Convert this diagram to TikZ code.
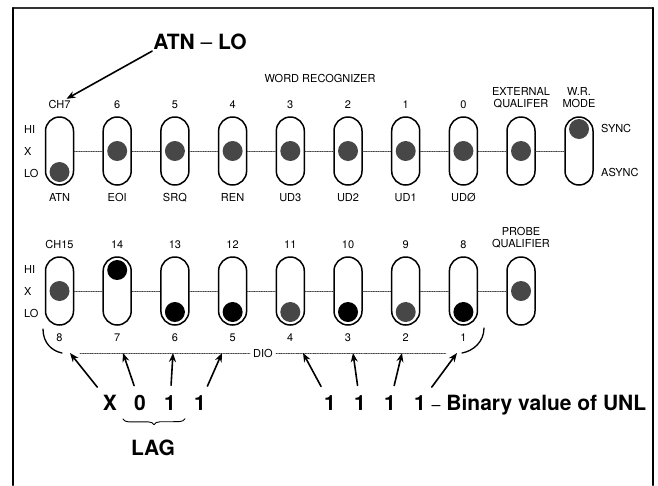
\documentclass[tikz,border=0pt]{standalone}
\usepackage{fontspec}
\setmainfont{TeX Gyre Heros}
\usetikzlibrary{arrows.meta,positioning,decorations.pathreplacing}
\tikzset{
    every picture/.style={line cap=round,line join=round},
    slot/.style={draw=black,line width=1.5pt,rounded corners=14pt,
      minimum width=28pt,minimum height=68pt,inner sep=0pt},
    knob/.style={circle,fill=black!72,minimum size=20pt,inner sep=0pt},
    solidknob/.style={knob,fill=black},
    tie/.style={draw=black!75,line width=0.7pt,densely dotted},
    lbl/.style={font=\fontsize{11}{12}\selectfont,inner sep=1pt,
      text height=8pt,text depth=0pt},
    lbltwo/.style={font=\fontsize{11}{12}\selectfont,inner sep=1pt,align=center},
    bigtxt/.style={font=\fontsize{21}{24}\selectfont\bfseries,inner sep=1pt},
    pointer/.style={-{Stealth[length=9pt,width=7pt]},line width=1.6pt}
}

\begin{document}
\begin{tikzpicture}[x=1pt,y=-1pt]
  \useasboundingbox (0,0) rectangle (658,485);
  % frame
  \draw[line width=1.2pt,draw=black!80] (13,8) -- (653,8);
  \draw[line width=2.4pt] (13,8) -- (13,485);
  \draw[line width=2.4pt] (653,8) -- (653,485);

  % word recognizer switches
  \node[lbl] (wr) at (320,78) {WORD RECOGNIZER};
  \foreach \n/\s/\dy [count=\i from 0] in {CH7/ATN/21,6/EOI/0,5/SRQ/0,4/REN/0,
      3/UD3/0,2/UD2/0,1/UD1/0,0/UDØ/0}{
    \node[slot] (t\i) at (59.5+57.7*\i,151) {};
    \node[knob] (tk\i) at (59.5+57.7*\i,151+\dy) {};
    \node[lbl,above=7pt of t\i] (tn\i) {\n};
    \node[lbl,below=7pt of t\i] (ts\i) {\s};}
  \node[slot] (t8) at (521,151) {};
  \node[knob] (tk8) at (t8) {};
  \node[lbltwo,above=7pt of t8] (ext) {EXTERNAL\\QUALIFER};
  \node[slot] (t9) at (579,151) {};
  \node[knob] (tk9) at (579,129) {};
  \node[lbltwo,above=7pt of t9] (mode) {W.R.\\MODE};
  \node[lbl,anchor=west] (sync) at (600,128) {SYNC};
  \node[lbl,anchor=west] (async) at (600,172) {ASYNC};
  \foreach \i [evaluate=\i as \j using int(\i+1)] in {0,...,8}
    \draw[tie] (t\i.east) -- (t\j.west);

  % probe switches
  \foreach \n/\s/\dy/\f [count=\i from 0] in {CH15/8/0/knob,14/7/-21/solidknob,
      13/6/21/solidknob,12/5/21/solidknob,11/4/21/knob,10/3/21/solidknob,
      9/2/21/knob,8/1/21/solidknob}{
    \node[slot] (b\i) at (59.5+57.7*\i,291) {};
    \node[\f] (bk\i) at (59.5+57.7*\i,291+\dy) {};
    \node[lbl,above=7pt of b\i] (bn\i) {\n};
    \node[lbl,below=7pt of b\i] (bs\i) {\s};}
  \node[slot] (b8) at (521,291) {};
  \node[knob] (bk8) at (b8) {};
  \node[lbltwo,above=7pt of b8] (probe) {PROBE\\QUALIFIER};
  \foreach \i [evaluate=\i as \j using int(\i+1)] in {0,...,7}
    \draw[tie] (b\i.east) -- (b\j.west);

  % HI / X / LO
  \foreach \r/\q in {151/t,291/b}{
    \node[lbl,anchor=west] (\q hi) at (23,\r-22) {HI};
    \node[lbl,anchor=west] (\q x) at (23,\r) {X};
    \node[lbl,anchor=west] (\q lo) at (23,\r+22) {LO};}

  % ATN - LO
  \node[bigtxt] (atn) at (200,42) {ATN \textmd{--} LO};
  \draw[pointer] (atn.south west) -- ([xshift=7pt]tn0.north);

  % DIO bus
  \foreach \x [count=\i] in {70,123,173,222,303,353,402,457}
    \coordinate (p\i) at (\x,353);
  \coordinate (dl) at (80,353);
  \coordinate (dr) at (446,353);
  \node[lbl,fill=white,inner xsep=3pt] (dio) at (263,353) {DIO};
  \draw[tie] (dl) -- (dio) -- (dr);
  \coordinate (cl) at (43,329);
  \coordinate (cr) at (484,328);
  \draw[line width=1.3pt] (cl) .. controls (43,343) and (52,351) .. ([xshift=-8pt]p1);
  \draw[line width=1.3pt] (cr) .. controls (484,342) and (473,351) .. ([xshift=5pt]p8);

  % binary value
  \foreach \v/\x [count=\i] in {X/110,0/140,1/170,1/200,1/330,1/360,1/390,1/420}{
    \node[bigtxt] (d\i) at (\x,403) {\v};
    \draw[pointer,shorten <=9pt] (d\i) -- (p\i);}
  \node[bigtxt,anchor=base west] (unl) at (d8.base east)
    {\,{\fontsize{16}{16}\selectfont\textmd{--}} Binary value of UNL};
  \draw[line width=0.9pt,decorate,decoration={brace,mirror,amplitude=6pt}]
    ([shift={(-10pt,-7pt)}]d2.south west) -- ([shift={(8pt,-7pt)}]d3.south east);
  \node[bigtxt] (lag) at (153,448) {LAG};
\end{tikzpicture}
\end{document}
